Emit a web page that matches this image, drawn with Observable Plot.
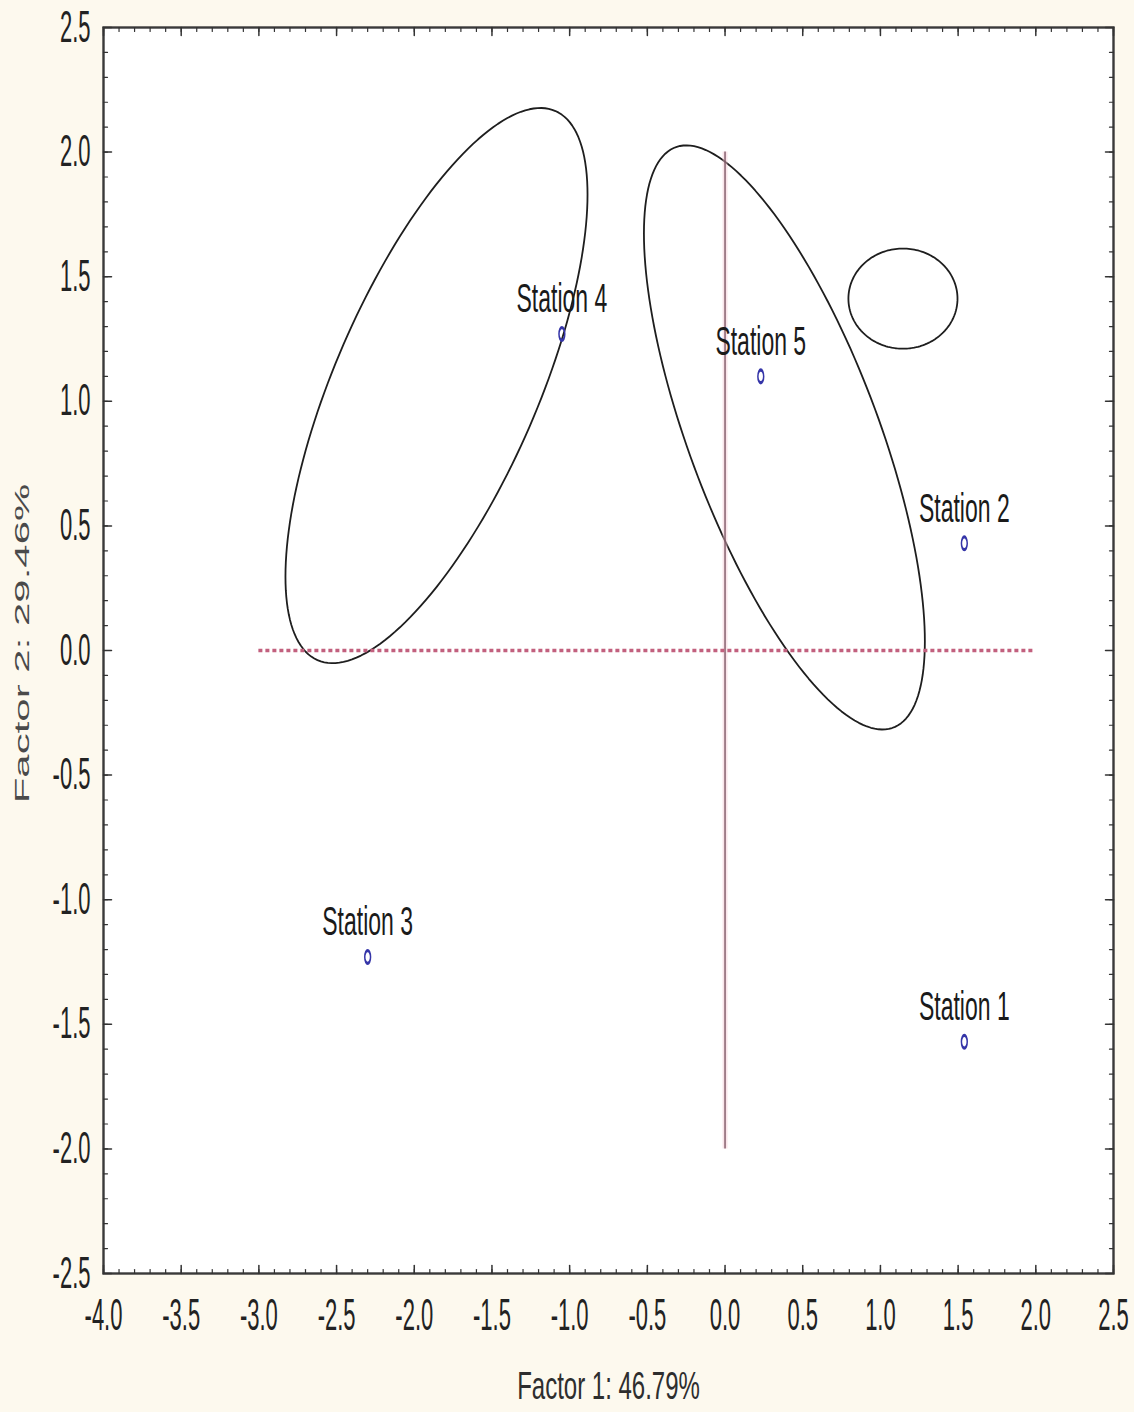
<!DOCTYPE html>
<html>
<head>
<meta charset="utf-8">
<script src="https://cdn.jsdelivr.net/npm/d3@7"></script>
<script src="https://cdn.jsdelivr.net/npm/@observablehq/plot@0.6"></script>
<style>
  html, body { margin: 0; padding: 0; background: #fdf9ee; }
  #chart { width: 1134px; height: 1412px; }
</style>
</head>
<body>
<div id="chart"></div>
<script>
// ---- Data ----
const stationNames = ["Station 1", "Station 2", "Station 3", "Station 4", "Station 5"];
const factor1 = [1.54, 1.54, -2.30, -1.05, 0.23];
const factor2 = [-1.57, 0.43, -1.23, 1.27, 1.10];

// Ellipses: centre, half-extent along each factor, correlation
const ellipseIds = ["A", "B", "C"];
const ellipseCx = [-1.857, 0.382, 1.145];
const ellipseCy = [1.063, 0.855, 1.412];
const ellipseRx = [0.972, 0.904, 0.351];
const ellipseRy = [1.114, 1.172, 0.201];
const ellipseRho = [0.688, -0.698, 0.0];

// Reference lines
const hLine = [{x1: -3.0, x2: 2.0, y: 0}];
const vLine = [{x: 0, y1: -2.0, y2: 2.0}];

// Axis ticks / labels
const xTicks = [-4.0, -3.5, -3.0, -2.5, -2.0, -1.5, -1.0, -0.5, 0.0, 0.5, 1.0, 1.5, 2.0, 2.5];
const yTicks = [-2.5, -2.0, -1.5, -1.0, -0.5, 0.0, 0.5, 1.0, 1.5, 2.0, 2.5];
const xMinor = d3.range(-40, 26).map(i => i / 10);
const yMinor = d3.range(-25, 26).map(i => i / 10);
const xTitle = "Factor 1: 46.79%";
const yTitle = "Factor 2: 29.46%";

// ---- Build tables ----
const stations = stationNames.map((name, i) => ({name, x: factor1[i], y: factor2[i]}));
const ellipsePts = [];
ellipseIds.forEach((id, k) => {
  const delta = Math.acos(ellipseRho[k]);
  for (let j = 0; j < 180; j++) {
    const t = (j / 180) * 2 * Math.PI;
    ellipsePts.push({
      id,
      x: ellipseCx[k] + ellipseRx[k] * Math.cos(t),
      y: ellipseCy[k] + ellipseRy[k] * Math.cos(t - delta)
    });
  }
});

const fmt = d => d.toFixed(1);
const font = "'Liberation Sans', Arial, sans-serif";
const tickShape = {draw(context, l) { context.moveTo(0, 0); context.lineTo(0, -l); }};
const tickStyle = {shape: tickShape, anchor: "start", stroke: "#333"};

const chart = Plot.plot({
  width: 1134,
  height: 1412,
  marginLeft: 103,
  marginRight: 21,
  marginTop: 27,
  marginBottom: 139,
  x: {domain: [-4, 2.5], label: null},
  y: {domain: [-2.5, 2.5], label: null},
  style: {background: "transparent", fontFamily: font},
  marks: [
    Plot.frame({fill: "white", stroke: "none"}),
    Plot.line(ellipsePts, {x: "x", y: "y", z: "id", curve: "linear-closed", stroke: "#1e1e1e", strokeWidth: 1.8}),
    Plot.ruleX(vLine, {x: "x", y1: "y1", y2: "y2", stroke: "#f3c6d0", strokeWidth: 5, strokeOpacity: 0.45}),
    Plot.ruleX(vLine, {x: "x", y1: "y1", y2: "y2", stroke: "#7f5866", strokeWidth: 1.4}),
    Plot.ruleY(hLine, {y: "y", x1: "x1", x2: "x2", stroke: "#c2607e", strokeWidth: 3.5, strokeDasharray: "4,3"}),
    Plot.dot(stations, {x: "x", y: "y", r: 2.9, stroke: "#3535a8", strokeWidth: 1.5, fill: "none"}),
    Plot.text(stations, {x: "x", y: "y", text: "name", dy: -35, fontSize: 23, fill: "#1a1a1a", lineAnchor: "middle"}),
    Plot.text([xTitle], {frameAnchor: "bottom", text: d => d, dy: 113, fontSize: 24, fill: "#2e2e2e", lineAnchor: "middle", textAnchor: "middle"}),
    Plot.text([yTitle], {frameAnchor: "left", text: d => d, rotate: -90, dx: -81, dy: -7, fontSize: 21, fill: "#4a4a4a", lineAnchor: "middle", textAnchor: "middle"}),
    Plot.frame({stroke: "#3a3a3a", strokeWidth: 2.4}),
    // inward tick marks on all four sides (minor every 0.1, major every 0.5)
    Plot.vector(xMinor, {x: d => d, y: -2.5, rotate: 0, length: 4, strokeWidth: 1.2, ...tickStyle}),
    Plot.vector(xMinor, {x: d => d, y: 2.5, rotate: 180, length: 4, strokeWidth: 1.2, ...tickStyle}),
    Plot.vector(xTicks, {x: d => d, y: -2.5, rotate: 0, length: 8, strokeWidth: 1.5, ...tickStyle}),
    Plot.vector(xTicks, {x: d => d, y: 2.5, rotate: 180, length: 8, strokeWidth: 1.5, ...tickStyle}),
    Plot.vector(yMinor, {x: -4, y: d => d, rotate: 90, length: 4, strokeWidth: 1.2, ...tickStyle}),
    Plot.vector(yMinor, {x: 2.5, y: d => d, rotate: 270, length: 4, strokeWidth: 1.2, ...tickStyle}),
    Plot.vector(yTicks, {x: -4, y: d => d, rotate: 90, length: 8, strokeWidth: 1.5, ...tickStyle}),
    Plot.vector(yTicks, {x: 2.5, y: d => d, rotate: 270, length: 8, strokeWidth: 1.5, ...tickStyle}),
    // tick labels
    Plot.axisX(xTicks, {anchor: "bottom", tickSize: 0, tickPadding: 25, stroke: "none", tickFormat: fmt, fontSize: 22, fill: "#222", label: null}),
    Plot.axisY(yTicks, {anchor: "left", tickSize: 0, tickPadding: 13, stroke: "none", tickFormat: fmt, fontSize: 22, fill: "#222", label: null})
  ]
});

document.getElementById("chart").appendChild(chart);

// The reference image is vertically stretched: reproduce by scaling glyphs.
function stretch(nodes, sx, sy) {
  nodes.forEach(node => {
    const el = d3.select(node);
    const t = el.attr("transform");
    if (t) {
      el.attr("transform", `${t} scale(${sx},${sy})`);
    } else {
      const x = parseFloat(el.attr("x")) || 0;
      el.attr("transform", `translate(${x},0) scale(${sx},${sy}) translate(${-x},0)`);
    }
  });
}
const svg = d3.select(chart);
const textGroups = svg.selectAll('g[aria-label="text"]').nodes();
if (textGroups[0]) stretch(d3.select(textGroups[0]).selectAll("text").nodes(), 1, 1.8);
if (textGroups[1]) stretch(d3.select(textGroups[1]).selectAll("text").nodes(), 1, 1.65);
if (textGroups[2]) stretch(d3.select(textGroups[2]).selectAll("text").nodes(), 2.0, 1);
stretch(svg.selectAll('g[aria-label="x-axis tick label"] text').nodes(), 1, 2.0);
stretch(svg.selectAll('g[aria-label="y-axis tick label"] text').nodes(), 1, 2.0);
svg.selectAll('g[aria-label="dot"] circle').each(function () {
  const c = d3.select(this);
  const cx = +c.attr("cx"), cy = +c.attr("cy");
  c.attr("transform", `translate(${cx},${cy}) scale(1,2.2) translate(${-cx},${-cy})`);
});
</script>
</body>
</html>
